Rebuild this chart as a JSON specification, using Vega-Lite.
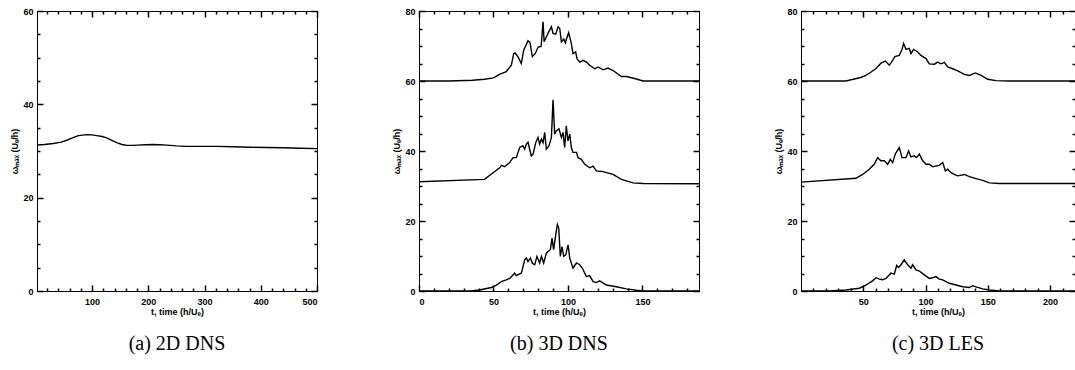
{
  "$schema": "https://vega.github.io/schema/vega-lite/v6.json",
  "padding": {"left": 10, "top": 6, "right": 0, "bottom": 0},
  "bounds": "flush",
  "spacing": 102,
  "config": {
    "view": {"stroke": "black", "strokeWidth": 1},
    "axis": {"grid": false, "domainColor": "black", "domainWidth": 1, "tickColor": "black", "tickWidth": 1.5,
      "labelFont": "Liberation Sans", "labelFontWeight": "bold", "labelFontSize": 9, "labelColor": "black",
      "titleFont": "Liberation Sans", "titleFontWeight": "bold", "titleFontSize": 9, "titleColor": "black"},
    "title": {"font": "Liberation Serif", "fontSize": 20, "fontWeight": "normal", "color": "black"}
  },
  "datasets": {
    "a": [
      {"t":2.7,"v":31.3,"s":"a"},{"t":15,"v":31.4,"s":"a"},{"t":31,"v":31.6,"s":"a"},{"t":45,"v":31.9,"s":"a"},{"t":55,"v":32.3,"s":"a"},{"t":65,"v":32.8,"s":"a"},{"t":75.7,"v":33.3,"s":"a"},{"t":90.5,"v":33.5,"s":"a"},{"t":100,"v":33.45,"s":"a"},{"t":108,"v":33.3,"s":"a"},{"t":118,"v":33.1,"s":"a"},{"t":126,"v":32.8,"s":"a"},{"t":135,"v":32.3,"s":"a"},{"t":144,"v":31.8,"s":"a"},{"t":153,"v":31.4,"s":"a"},{"t":162,"v":31.2,"s":"a"},{"t":171,"v":31.2,"s":"a"},{"t":180,"v":31.25,"s":"a"},{"t":195,"v":31.35,"s":"a"},{"t":209,"v":31.4,"s":"a"},{"t":220,"v":31.35,"s":"a"},{"t":233,"v":31.25,"s":"a"},{"t":250,"v":31.1,"s":"a"},{"t":268,"v":31,"s":"a"},{"t":300,"v":31,"s":"a"},{"t":322,"v":31,"s":"a"},{"t":350,"v":30.9,"s":"a"},{"t":381,"v":30.8,"s":"a"},{"t":410,"v":30.75,"s":"a"},{"t":440,"v":30.7,"s":"a"},{"t":470,"v":30.6,"s":"a"},{"t":500,"v":30.5,"s":"a"}
    ],
    "b": [
      {"t":0,"v":60,"s":"top"},{"t":20,"v":60,"s":"top"},{"t":36,"v":60.2,"s":"top"},{"t":44,"v":60.5,"s":"top"},{"t":50,"v":60.9,"s":"top"},{"t":54,"v":61.9,"s":"top"},{"t":58.6,"v":62.7,"s":"top"},{"t":62,"v":64.5,"s":"top"},{"t":63.6,"v":67.8,"s":"top"},{"t":64.5,"v":68,"s":"top"},{"t":66.5,"v":66.9,"s":"top"},{"t":68.7,"v":65,"s":"top"},{"t":70.3,"v":68.8,"s":"top"},{"t":73.2,"v":71.5,"s":"top"},{"t":74.5,"v":71,"s":"top"},{"t":76.1,"v":67,"s":"top"},{"t":78,"v":67.8,"s":"top"},{"t":80,"v":69.7,"s":"top"},{"t":82,"v":69.9,"s":"top"},{"t":83.3,"v":76.9,"s":"top"},{"t":84,"v":71.2,"s":"top"},{"t":86.6,"v":73.6,"s":"top"},{"t":88.9,"v":75.5,"s":"top"},{"t":90,"v":73.6,"s":"top"},{"t":91.8,"v":73.4,"s":"top"},{"t":93.4,"v":75.5,"s":"top"},{"t":94.5,"v":75,"s":"top"},{"t":95.6,"v":71.2,"s":"top"},{"t":97.2,"v":72,"s":"top"},{"t":98.3,"v":70.9,"s":"top"},{"t":99,"v":72,"s":"top"},{"t":100.5,"v":73.8,"s":"top"},{"t":102.3,"v":70.7,"s":"top"},{"t":103.4,"v":67.8,"s":"top"},{"t":105.2,"v":68.3,"s":"top"},{"t":106.1,"v":66.4,"s":"top"},{"t":107.9,"v":65.4,"s":"top"},{"t":110.1,"v":65.9,"s":"top"},{"t":112.4,"v":65.4,"s":"top"},{"t":114.6,"v":64.5,"s":"top"},{"t":118,"v":63.5,"s":"top"},{"t":120.2,"v":64,"s":"top"},{"t":123.6,"v":63.2,"s":"top"},{"t":126.9,"v":63.7,"s":"top"},{"t":130.3,"v":63,"s":"top"},{"t":135.9,"v":61.3,"s":"top"},{"t":139.2,"v":61.3,"s":"top"},{"t":144.8,"v":60.7,"s":"top"},{"t":150.4,"v":60,"s":"top"},{"t":188,"v":60,"s":"top"},
      {"t":0,"v":31.2,"s":"mid"},{"t":44,"v":31.9,"s":"mid"},{"t":49.7,"v":33.8,"s":"mid"},{"t":54.2,"v":35.2,"s":"mid"},{"t":55.3,"v":35.9,"s":"mid"},{"t":57.5,"v":35.5,"s":"mid"},{"t":60.9,"v":36.7,"s":"mid"},{"t":63.1,"v":38.1,"s":"mid"},{"t":65.3,"v":38.1,"s":"mid"},{"t":67.6,"v":41,"s":"mid"},{"t":69.8,"v":41.5,"s":"mid"},{"t":70.9,"v":40.5,"s":"mid"},{"t":72.1,"v":42,"s":"mid"},{"t":73.2,"v":42.5,"s":"mid"},{"t":74.3,"v":40.5,"s":"mid"},{"t":75.4,"v":38.6,"s":"mid"},{"t":76.6,"v":39.1,"s":"mid"},{"t":78.4,"v":42.4,"s":"mid"},{"t":79.9,"v":43.9,"s":"mid"},{"t":81,"v":42,"s":"mid"},{"t":82.2,"v":43.4,"s":"mid"},{"t":83.3,"v":42.4,"s":"mid"},{"t":84.4,"v":45.3,"s":"mid"},{"t":85.5,"v":40.5,"s":"mid"},{"t":87.3,"v":41.5,"s":"mid"},{"t":88.9,"v":43.9,"s":"mid"},{"t":90,"v":54.6,"s":"mid"},{"t":91.1,"v":44.8,"s":"mid"},{"t":92.2,"v":45.8,"s":"mid"},{"t":94,"v":46.3,"s":"mid"},{"t":95.6,"v":43.9,"s":"mid"},{"t":96.7,"v":45.3,"s":"mid"},{"t":97.8,"v":41,"s":"mid"},{"t":98.9,"v":47.2,"s":"mid"},{"t":100,"v":42.9,"s":"mid"},{"t":101.2,"v":44.8,"s":"mid"},{"t":102.3,"v":41,"s":"mid"},{"t":103.4,"v":39.6,"s":"mid"},{"t":105.7,"v":39.6,"s":"mid"},{"t":106.8,"v":38.1,"s":"mid"},{"t":109,"v":37.6,"s":"mid"},{"t":111.3,"v":36.2,"s":"mid"},{"t":114.6,"v":35.2,"s":"mid"},{"t":116.9,"v":35.7,"s":"mid"},{"t":119.1,"v":34.3,"s":"mid"},{"t":123.6,"v":34.1,"s":"mid"},{"t":130.3,"v":33.3,"s":"mid"},{"t":135.9,"v":31.9,"s":"mid"},{"t":143.7,"v":30.9,"s":"mid"},{"t":150.4,"v":30.7,"s":"mid"},{"t":188,"v":30.65,"s":"mid"},
      {"t":0,"v":0,"s":"bot"},{"t":34,"v":0,"s":"bot"},{"t":40.7,"v":0.3,"s":"bot"},{"t":48.6,"v":1,"s":"bot"},{"t":52,"v":1.7,"s":"bot"},{"t":55.3,"v":2.7,"s":"bot"},{"t":58.6,"v":3.2,"s":"bot"},{"t":60.9,"v":3.6,"s":"bot"},{"t":63.1,"v":4.6,"s":"bot"},{"t":64.2,"v":5.1,"s":"bot"},{"t":65.3,"v":4.4,"s":"bot"},{"t":67.2,"v":4.8,"s":"bot"},{"t":68.7,"v":5.1,"s":"bot"},{"t":71,"v":8.9,"s":"bot"},{"t":72.1,"v":9.4,"s":"bot"},{"t":73.2,"v":8.4,"s":"bot"},{"t":74.8,"v":9.4,"s":"bot"},{"t":76.1,"v":7.9,"s":"bot"},{"t":77.7,"v":7.5,"s":"bot"},{"t":79.2,"v":9.9,"s":"bot"},{"t":81,"v":8,"s":"bot"},{"t":82.2,"v":9.9,"s":"bot"},{"t":83.7,"v":8,"s":"bot"},{"t":85.5,"v":10.8,"s":"bot"},{"t":86.6,"v":11.3,"s":"bot"},{"t":88.2,"v":11.8,"s":"bot"},{"t":89.3,"v":15.1,"s":"bot"},{"t":90.4,"v":11.8,"s":"bot"},{"t":91.8,"v":16.1,"s":"bot"},{"t":92.9,"v":19,"s":"bot"},{"t":93.8,"v":18,"s":"bot"},{"t":94.9,"v":9.9,"s":"bot"},{"t":96,"v":12.7,"s":"bot"},{"t":97.2,"v":9.9,"s":"bot"},{"t":98.5,"v":10.3,"s":"bot"},{"t":100.1,"v":13.2,"s":"bot"},{"t":101.2,"v":9.4,"s":"bot"},{"t":103.4,"v":6.5,"s":"bot"},{"t":105.7,"v":8,"s":"bot"},{"t":107.9,"v":7.5,"s":"bot"},{"t":109.7,"v":6.5,"s":"bot"},{"t":112.4,"v":4.1,"s":"bot"},{"t":114.6,"v":4.4,"s":"bot"},{"t":116.9,"v":2.7,"s":"bot"},{"t":119.1,"v":2.4,"s":"bot"},{"t":121.3,"v":2.9,"s":"bot"},{"t":125.8,"v":1.7,"s":"bot"},{"t":132.5,"v":1.2,"s":"bot"},{"t":139.2,"v":0.6,"s":"bot"},{"t":146,"v":0.2,"s":"bot"},{"t":150.4,"v":0,"s":"bot"},{"t":188,"v":0,"s":"bot"}
    ],
    "c": [
      {"t":0,"v":60,"s":"top"},{"t":36,"v":60,"s":"top"},{"t":48,"v":61,"s":"top"},{"t":52,"v":61.6,"s":"top"},{"t":56,"v":62.5,"s":"top"},{"t":60,"v":63.5,"s":"top"},{"t":64.2,"v":65.1,"s":"top"},{"t":67.7,"v":65.7,"s":"top"},{"t":70.9,"v":64.5,"s":"top"},{"t":73.6,"v":65.9,"s":"top"},{"t":75.4,"v":67,"s":"top"},{"t":78.9,"v":67.3,"s":"top"},{"t":81.1,"v":69,"s":"top"},{"t":82.4,"v":70.7,"s":"top"},{"t":84.3,"v":69,"s":"top"},{"t":86.9,"v":69.3,"s":"top"},{"t":88.3,"v":67.8,"s":"top"},{"t":90.4,"v":69,"s":"top"},{"t":93.7,"v":68.3,"s":"top"},{"t":96.3,"v":67.3,"s":"top"},{"t":100.4,"v":66.4,"s":"top"},{"t":103,"v":64.9,"s":"top"},{"t":107.1,"v":64.8,"s":"top"},{"t":109.7,"v":65.4,"s":"top"},{"t":112.4,"v":64.9,"s":"top"},{"t":115.1,"v":65.3,"s":"top"},{"t":117.8,"v":64,"s":"top"},{"t":121.8,"v":63.5,"s":"top"},{"t":125.8,"v":62.9,"s":"top"},{"t":131.2,"v":61.9,"s":"top"},{"t":135.2,"v":61.6,"s":"top"},{"t":140,"v":62.3,"s":"top"},{"t":144.6,"v":61.6,"s":"top"},{"t":149.9,"v":60.5,"s":"top"},{"t":156.6,"v":60.1,"s":"top"},{"t":167,"v":60,"s":"top"},{"t":220,"v":60,"s":"top"},
      {"t":0,"v":31.1,"s":"mid"},{"t":44.1,"v":32.2,"s":"mid"},{"t":49.5,"v":33.3,"s":"mid"},{"t":54.8,"v":34.8,"s":"mid"},{"t":58.8,"v":36.2,"s":"mid"},{"t":61.5,"v":38.1,"s":"mid"},{"t":64.2,"v":37.2,"s":"mid"},{"t":66.9,"v":37.2,"s":"mid"},{"t":69.6,"v":36.2,"s":"mid"},{"t":71.7,"v":37.6,"s":"mid"},{"t":73.6,"v":36.7,"s":"mid"},{"t":75.7,"v":39.1,"s":"mid"},{"t":78.9,"v":41,"s":"mid"},{"t":81.1,"v":38.1,"s":"mid"},{"t":84.3,"v":38.1,"s":"mid"},{"t":86.4,"v":40,"s":"mid"},{"t":88.3,"v":38.3,"s":"mid"},{"t":90.9,"v":38.6,"s":"mid"},{"t":92.8,"v":38.1,"s":"mid"},{"t":95,"v":39.1,"s":"mid"},{"t":97.7,"v":37.2,"s":"mid"},{"t":100.4,"v":36.2,"s":"mid"},{"t":103,"v":36.2,"s":"mid"},{"t":105.7,"v":35.5,"s":"mid"},{"t":111,"v":35.9,"s":"mid"},{"t":113.8,"v":36.7,"s":"mid"},{"t":115.9,"v":34.3,"s":"mid"},{"t":117.8,"v":34.8,"s":"mid"},{"t":120.5,"v":33.8,"s":"mid"},{"t":123.1,"v":33.3,"s":"mid"},{"t":125.8,"v":32.9,"s":"mid"},{"t":131.2,"v":33.3,"s":"mid"},{"t":135.2,"v":32.7,"s":"mid"},{"t":140.5,"v":32.1,"s":"mid"},{"t":145.9,"v":31.6,"s":"mid"},{"t":151.3,"v":30.9,"s":"mid"},{"t":159.3,"v":30.7,"s":"mid"},{"t":220,"v":30.7,"s":"mid"},
      {"t":0,"v":0,"s":"bot"},{"t":22.7,"v":0,"s":"bot"},{"t":36,"v":0.3,"s":"bot"},{"t":46.8,"v":0.8,"s":"bot"},{"t":52.1,"v":1.7,"s":"bot"},{"t":57.5,"v":2.9,"s":"bot"},{"t":60.2,"v":3.8,"s":"bot"},{"t":62.9,"v":3.4,"s":"bot"},{"t":65.5,"v":3.2,"s":"bot"},{"t":68.2,"v":3.6,"s":"bot"},{"t":72.2,"v":5.1,"s":"bot"},{"t":74.9,"v":4.8,"s":"bot"},{"t":76.8,"v":7.3,"s":"bot"},{"t":78.4,"v":6.7,"s":"bot"},{"t":80.3,"v":7.5,"s":"bot"},{"t":82.9,"v":8.9,"s":"bot"},{"t":85.6,"v":7.5,"s":"bot"},{"t":88.3,"v":6.5,"s":"bot"},{"t":89.6,"v":7.5,"s":"bot"},{"t":92.3,"v":6,"s":"bot"},{"t":95,"v":5.7,"s":"bot"},{"t":99,"v":4.6,"s":"bot"},{"t":103,"v":3.6,"s":"bot"},{"t":105.7,"v":3.8,"s":"bot"},{"t":108.4,"v":4.1,"s":"bot"},{"t":111,"v":3.4,"s":"bot"},{"t":113.8,"v":3.2,"s":"bot"},{"t":119.1,"v":2.2,"s":"bot"},{"t":124.5,"v":1.7,"s":"bot"},{"t":129.8,"v":1.2,"s":"bot"},{"t":135.2,"v":1,"s":"bot"},{"t":137.9,"v":1.5,"s":"bot"},{"t":140.5,"v":1.2,"s":"bot"},{"t":145.9,"v":0.6,"s":"bot"},{"t":151.3,"v":0.3,"s":"bot"},{"t":159.3,"v":0,"s":"bot"},{"t":220,"v":0,"s":"bot"}
    ]
  },
  "hconcat": [
    {
      "width": 280, "height": 280,
      "data": {"name": "a"},
      "title": {"text": "(a) 2D DNS", "orient": "bottom", "offset": 18},
      "layer": [
        {"mark": {"type": "line", "color": "black", "strokeWidth": 1.4},
         "encoding": {
           "x": {"field": "t", "type": "quantitative", "scale": {"domain": [2, 500], "nice": false, "zero": false},
             "axis": {"orient": "bottom", "values": [100,200,300,400,500], "tickSize": -6, "labelPadding": 12, "title": "t, time (h/Uₑ)", "titlePadding": 1}},
           "y": {"field": "v", "type": "quantitative", "scale": {"domain": [0, 60], "nice": false},
             "axis": {"orient": "left", "values": [0,20,40,60], "tickSize": -6, "labelPadding": 10, "title": "ωₘₐₓ (Uₑ/h)", "titlePadding": 3}},
           "detail": {"field": "s"}
         }},
        {"mark": {"type": "line", "opacity": 0},
         "encoding": {
           "x": {"field": "t", "type": "quantitative", "scale": {"domain": [2, 500], "nice": false, "zero": false},
             "axis": {"orient": "top", "values": [100,200,300,400,500], "labels": false, "title": null, "tickSize": -6}},
           "y": {"field": "v", "type": "quantitative", "scale": {"domain": [0, 60], "nice": false},
             "axis": {"orient": "right", "values": [0,20,40,60], "labels": false, "title": null, "tickSize": -6}},
           "detail": {"field": "s"}
         }},
        {"mark": {"type": "line", "opacity": 0},
         "encoding": {
           "x": {"field": "t", "type": "quantitative", "scale": {"domain": [2, 500], "nice": false, "zero": false},
             "axis": {"orient": "bottom", "values": [20,40,60,80,120,140,160,180,220,240,260,280,320,340,360,380,420,440,460,480], "labels": false, "title": null, "tickSize": -3}},
           "y": {"field": "v", "type": "quantitative", "scale": {"domain": [0, 60], "nice": false},
             "axis": {"orient": "left", "values": [5,10,15,25,30,35,45,50,55], "labels": false, "title": null, "tickSize": -3}},
           "detail": {"field": "s"}
         }},
        {"mark": {"type": "line", "opacity": 0},
         "encoding": {
           "x": {"field": "t", "type": "quantitative", "scale": {"domain": [2, 500], "nice": false, "zero": false},
             "axis": {"orient": "top", "values": [20,40,60,80,120,140,160,180,220,240,260,280,320,340,360,380,420,440,460,480], "labels": false, "title": null, "tickSize": -3}},
           "y": {"field": "v", "type": "quantitative", "scale": {"domain": [0, 60], "nice": false},
             "axis": {"orient": "right", "values": [5,10,15,25,30,35,45,50,55], "labels": false, "title": null, "tickSize": -3}},
           "detail": {"field": "s"}
         }}
      ],
      "resolve": {"axis": {"x": "independent", "y": "independent"}}
    },
    {
      "width": 280, "height": 280,
      "data": {"name": "b"},
      "title": {"text": "(b) 3D DNS", "orient": "bottom", "offset": 18},
      "layer": [
        {"mark": {"type": "line", "color": "black", "strokeWidth": 1.4},
         "encoding": {
           "x": {"field": "t", "type": "quantitative", "scale": {"domain": [0, 188], "nice": false, "zero": false},
             "axis": {"orient": "bottom", "values": [0,50,100,150], "tickSize": -6, "labelPadding": 12, "title": "t, time (h/Uₑ)", "titlePadding": 1}},
           "y": {"field": "v", "type": "quantitative", "scale": {"domain": [0, 80], "nice": false},
             "axis": {"orient": "left", "values": [0,20,40,60,80], "tickSize": -6, "labelPadding": 10, "title": "ωₘₐₓ (Uₑ/h)", "titlePadding": 3}},
           "detail": {"field": "s"}
         }},
        {"mark": {"type": "line", "opacity": 0},
         "encoding": {
           "x": {"field": "t", "type": "quantitative", "scale": {"domain": [0, 188], "nice": false, "zero": false},
             "axis": {"orient": "top", "values": [0,50,100,150], "labels": false, "title": null, "tickSize": -6}},
           "y": {"field": "v", "type": "quantitative", "scale": {"domain": [0, 80], "nice": false},
             "axis": {"orient": "right", "values": [0,20,40,60,80], "labels": false, "title": null, "tickSize": -6}},
           "detail": {"field": "s"}
         }},
        {"mark": {"type": "line", "opacity": 0},
         "encoding": {
           "x": {"field": "t", "type": "quantitative", "scale": {"domain": [0, 188], "nice": false, "zero": false},
             "axis": {"orient": "bottom", "values": [10,20,30,40,60,70,80,90,110,120,130,140,160,170,180], "labels": false, "title": null, "tickSize": -3}},
           "y": {"field": "v", "type": "quantitative", "scale": {"domain": [0, 80], "nice": false},
             "axis": {"orient": "left", "values": [5,10,15,25,30,35,45,50,55,65,70,75], "labels": false, "title": null, "tickSize": -3}},
           "detail": {"field": "s"}
         }},
        {"mark": {"type": "line", "opacity": 0},
         "encoding": {
           "x": {"field": "t", "type": "quantitative", "scale": {"domain": [0, 188], "nice": false, "zero": false},
             "axis": {"orient": "top", "values": [10,20,30,40,60,70,80,90,110,120,130,140,160,170,180], "labels": false, "title": null, "tickSize": -3}},
           "y": {"field": "v", "type": "quantitative", "scale": {"domain": [0, 80], "nice": false},
             "axis": {"orient": "right", "values": [5,10,15,25,30,35,45,50,55,65,70,75], "labels": false, "title": null, "tickSize": -3}},
           "detail": {"field": "s"}
         }}
      ],
      "resolve": {"axis": {"x": "independent", "y": "independent"}}
    },
    {
      "width": 274, "height": 280,
      "data": {"name": "c"},
      "title": {"text": "(c) 3D LES", "orient": "bottom", "offset": 18},
      "layer": [
        {"mark": {"type": "line", "color": "black", "strokeWidth": 1.4},
         "encoding": {
           "x": {"field": "t", "type": "quantitative", "scale": {"domain": [0, 220], "nice": false, "zero": false},
             "axis": {"orient": "bottom", "values": [50,100,150,200], "tickSize": -6, "labelPadding": 12, "title": "t, time (h/Uₑ)", "titlePadding": 1}},
           "y": {"field": "v", "type": "quantitative", "scale": {"domain": [0, 80], "nice": false},
             "axis": {"orient": "left", "values": [0,20,40,60,80], "tickSize": -6, "labelPadding": 10, "title": "ωₘₐₓ (Uₑ/h)", "titlePadding": 3}},
           "detail": {"field": "s"}
         }},
        {"mark": {"type": "line", "opacity": 0},
         "encoding": {
           "x": {"field": "t", "type": "quantitative", "scale": {"domain": [0, 220], "nice": false, "zero": false},
             "axis": {"orient": "top", "values": [50,100,150,200], "labels": false, "title": null, "tickSize": -6}},
           "y": {"field": "v", "type": "quantitative", "scale": {"domain": [0, 80], "nice": false},
             "axis": {"orient": "right", "values": [0,20,40,60,80], "labels": false, "title": null, "tickSize": -6}},
           "detail": {"field": "s"}
         }},
        {"mark": {"type": "line", "opacity": 0},
         "encoding": {
           "x": {"field": "t", "type": "quantitative", "scale": {"domain": [0, 220], "nice": false, "zero": false},
             "axis": {"orient": "bottom", "values": [10,20,30,40,60,70,80,90,110,120,130,140,160,170,180,190,210], "labels": false, "title": null, "tickSize": -3}},
           "y": {"field": "v", "type": "quantitative", "scale": {"domain": [0, 80], "nice": false},
             "axis": {"orient": "left", "values": [5,10,15,25,30,35,45,50,55,65,70,75], "labels": false, "title": null, "tickSize": -3}},
           "detail": {"field": "s"}
         }},
        {"mark": {"type": "line", "opacity": 0},
         "encoding": {
           "x": {"field": "t", "type": "quantitative", "scale": {"domain": [0, 220], "nice": false, "zero": false},
             "axis": {"orient": "top", "values": [10,20,30,40,60,70,80,90,110,120,130,140,160,170,180,190,210], "labels": false, "title": null, "tickSize": -3}},
           "y": {"field": "v", "type": "quantitative", "scale": {"domain": [0, 80], "nice": false},
             "axis": {"orient": "right", "values": [5,10,15,25,30,35,45,50,55,65,70,75], "labels": false, "title": null, "tickSize": -3}},
           "detail": {"field": "s"}
         }}
      ],
      "resolve": {"axis": {"x": "independent", "y": "independent"}}
    }
  ]
}
